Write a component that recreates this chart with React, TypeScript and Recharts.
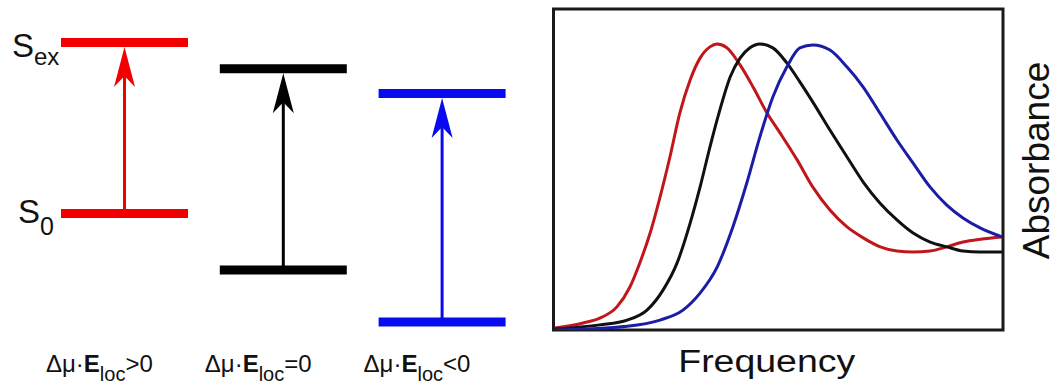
import React from "react";
import {
  ComposedChart,
  LineChart,
  Bar,
  Line,
  XAxis,
  YAxis,
  ReferenceArea,
} from "recharts";

// energy level diagram: one column per sign of the Stark term
const conditions = ["pos", "zero", "neg"];
const conditionLabels = [">0", "=0", "<0"];
const groundLevels = [39.5, 21.9, 5.6];
const excitedLevels = [93.0, 84.8, 77.0];

// absorbance spectra (frequency 0-100, absorbance 0-100)
const redFrequency = [0.3, 6.6, 10.3, 14.1, 17.0, 19.2, 21.5, 23.7, 25.9, 28.1, 30.4, 32.6, 34.8, 36.4, 38.6, 41.5, 44.4, 47.5, 50.4, 54.2, 57.7, 61.5, 65.3, 68.9, 72.7, 76.4, 80.0, 83.8, 87.5, 91.1, 95.0, 99.8];
const redAbsorbance = [0.6, 2.2, 3.7, 7.2, 13.4, 20.9, 30.2, 41.4, 53.9, 67.6, 77.9, 84.7, 88.2, 89.1, 87.9, 82.6, 75.7, 67.6, 61.4, 53.0, 44.5, 37.4, 32.1, 28.7, 25.9, 24.6, 24.3, 24.6, 25.9, 27.4, 28.3, 29.0];

const blackFrequency = [0.3, 10.3, 16.4, 20.8, 24.4, 27.5, 30.4, 32.6, 34.8, 37.0, 39.3, 41.5, 43.7, 45.9, 48.8, 51.9, 54.8, 57.7, 61.5, 65.3, 68.9, 72.6, 76.4, 80.0, 83.8, 87.5, 91.1, 94.9, 99.8];
const blackAbsorbance = [0.3, 1.6, 3.1, 6.2, 12.5, 20.9, 33.3, 44.5, 57.0, 68.5, 78.8, 84.7, 87.9, 89.1, 87.9, 83.2, 77.3, 71.0, 62.3, 53.9, 46.1, 39.6, 34.3, 30.2, 27.4, 25.9, 24.6, 24.3, 24.3];

const blueFrequency = [0.3, 16.4, 23.7, 28.8, 32.6, 36.4, 39.9, 43.0, 45.9, 48.8, 51.9, 54.8, 57.7, 61.5, 65.3, 68.9, 72.6, 76.4, 80.0, 83.8, 87.5, 91.1, 94.9, 99.8];
const blueAbsorbance = [0.0, 1.2, 3.1, 6.2, 11.5, 19.6, 32.1, 45.8, 60.1, 72.6, 81.9, 87.9, 88.8, 87.2, 81.9, 75.7, 67.6, 59.2, 52.0, 44.5, 38.9, 34.9, 31.8, 29.0];

const FONT = "'Liberation Sans', Arial, sans-serif";
const LEVEL_COLORS = ["#f20000", "#000000", "#0a0af0"];
const SPECTRUM_COLORS = ["#c0161c", "#111111", "#1c1ca6"];

const zip = (f: number[], a: number[]) => f.map((v, i) => ({ f: v, a: a[i] }));
const redData = zip(redFrequency, redAbsorbance);
const blackData = zip(blackFrequency, blackAbsorbance);
const blueData = zip(blueFrequency, blueAbsorbance);

const levelData = conditions.map((c, i) => ({
  c,
  gap: [groundLevels[i], excitedLevels[i]],
}));

// each ranged bar becomes: ground level, excited level and the transition arrow
const LevelPair = (props: any) => {
  const { x, y, width, height, index } = props;
  const color = LEVEL_COLORS[index];
  const top = Math.min(y, y + height);
  const bottom = Math.max(y, y + height);
  const cx = x + width / 2;
  const tip = top + 4.5;
  const len = 40;
  const half = 10.5;
  const notch = 29;
  return (
    <g>
      <line x1={x} y1={top} x2={x + width} y2={top} stroke={color} strokeWidth={9} />
      <line x1={x} y1={bottom} x2={x + width} y2={bottom} stroke={color} strokeWidth={9} />
      <line x1={cx} y1={bottom} x2={cx} y2={tip + notch} stroke={color} strokeWidth={3} />
      <polygon
        points={`${cx},${tip} ${cx + half},${tip + len} ${cx},${tip + notch} ${cx - half},${tip + len}`}
        fill={color}
      />
      {index === 0 && (
        <>
          <text x={x - 49} y={top + 14.5} fontSize={33} fontFamily={FONT} fill="#111">
            S<tspan fontSize={24} dy={8}>ex</tspan>
          </text>
          <text x={x - 43} y={bottom + 9.5} fontSize={33} fontFamily={FONT} fill="#111">
            S<tspan fontSize={25} dy={12}>0</tspan>
          </text>
        </>
      )}
    </g>
  );
};

const ConditionTick = (props: any) => {
  const { x, y, payload } = props;
  const i = conditions.indexOf(payload.value);
  return (
    <text
      x={x - 25}
      y={y + 32}
      textAnchor="middle"
      fontSize={24}
      fontFamily={FONT}
      fill="#111"
    >
      Δμ·<tspan fontWeight="bold">E</tspan>
      <tspan fontSize={20} dy={9}>loc</tspan>
      <tspan dy={-9}>{conditionLabels[i]}</tspan>
    </text>
  );
};

const App: React.FC = () => {
  return (
    <div
      style={{
        position: "absolute",
        left: 0,
        top: 0,
        width: 1057,
        height: 390,
        background: "#fff",
      }}
    >
      <div style={{ position: "absolute", left: 0, top: 0 }}>
        <ComposedChart
          width={545}
          height={390}
          data={levelData}
          margin={{ top: 20, right: 23.6, bottom: 10, left: 45 }}
        >
          <XAxis
            dataKey="c"
            height={40}
            axisLine={false}
            tickLine={false}
            tickSize={0}
            tickMargin={0}
            tick={<ConditionTick />}
            interval={0}
          />
          <YAxis type="number" domain={[0, 100]} hide />
          <Bar dataKey="gap" barSize={127} shape={<LevelPair />} isAnimationActive={false} />
        </ComposedChart>
      </div>

      <div style={{ position: "absolute", left: 545, top: 0 }}>
        <LineChart width={512} height={390} margin={{ top: 9, right: 0, bottom: 0, left: 8.5 }}>
          <XAxis
            type="number"
            dataKey="f"
            domain={[0, 100]}
            allowDataOverflow
            height={60}
            tick={false}
            tickLine={false}
            axisLine={false}
            label={{
              content: ({ viewBox }: any) => (
                <text
                  x={viewBox.x + viewBox.width / 2 - 11.5}
                  y={viewBox.y + 42}
                  textAnchor="middle"
                  fontSize={31}
                  fontFamily={FONT}
                  fill="#111"
                  textLength={177}
                  lengthAdjust="spacingAndGlyphs"
                >
                  Frequency
                </text>
              ),
            }}
          />
          <YAxis
            type="number"
            orientation="right"
            domain={[0, 100]}
            allowDataOverflow
            width={54}
            tick={false}
            tickLine={false}
            axisLine={false}
            label={{
              content: ({ viewBox }: any) => {
                const x = viewBox.x + 46;
                const y = viewBox.y + viewBox.height / 2 - 9;
                return (
                  <text
                    x={x}
                    y={y}
                    transform={`rotate(-90 ${x} ${y})`}
                    textAnchor="middle"
                    fontSize={37}
                    fontFamily={FONT}
                    fill="#111"
                  >
                    Absorbance
                  </text>
                );
              },
            }}
          />
          <ReferenceArea
            x1={0}
            x2={100}
            y1={0}
            y2={100}
            fill="none"
            stroke="#1a1a1a"
            strokeWidth={3}
          />
          <Line data={redData} dataKey="a" type="monotone" stroke={SPECTRUM_COLORS[0]} strokeWidth={3} dot={false} isAnimationActive={false} />
          <Line data={blackData} dataKey="a" type="monotone" stroke={SPECTRUM_COLORS[1]} strokeWidth={3} dot={false} isAnimationActive={false} />
          <Line data={blueData} dataKey="a" type="monotone" stroke={SPECTRUM_COLORS[2]} strokeWidth={3} dot={false} isAnimationActive={false} />
        </LineChart>
      </div>
    </div>
  );
};

export default App;
